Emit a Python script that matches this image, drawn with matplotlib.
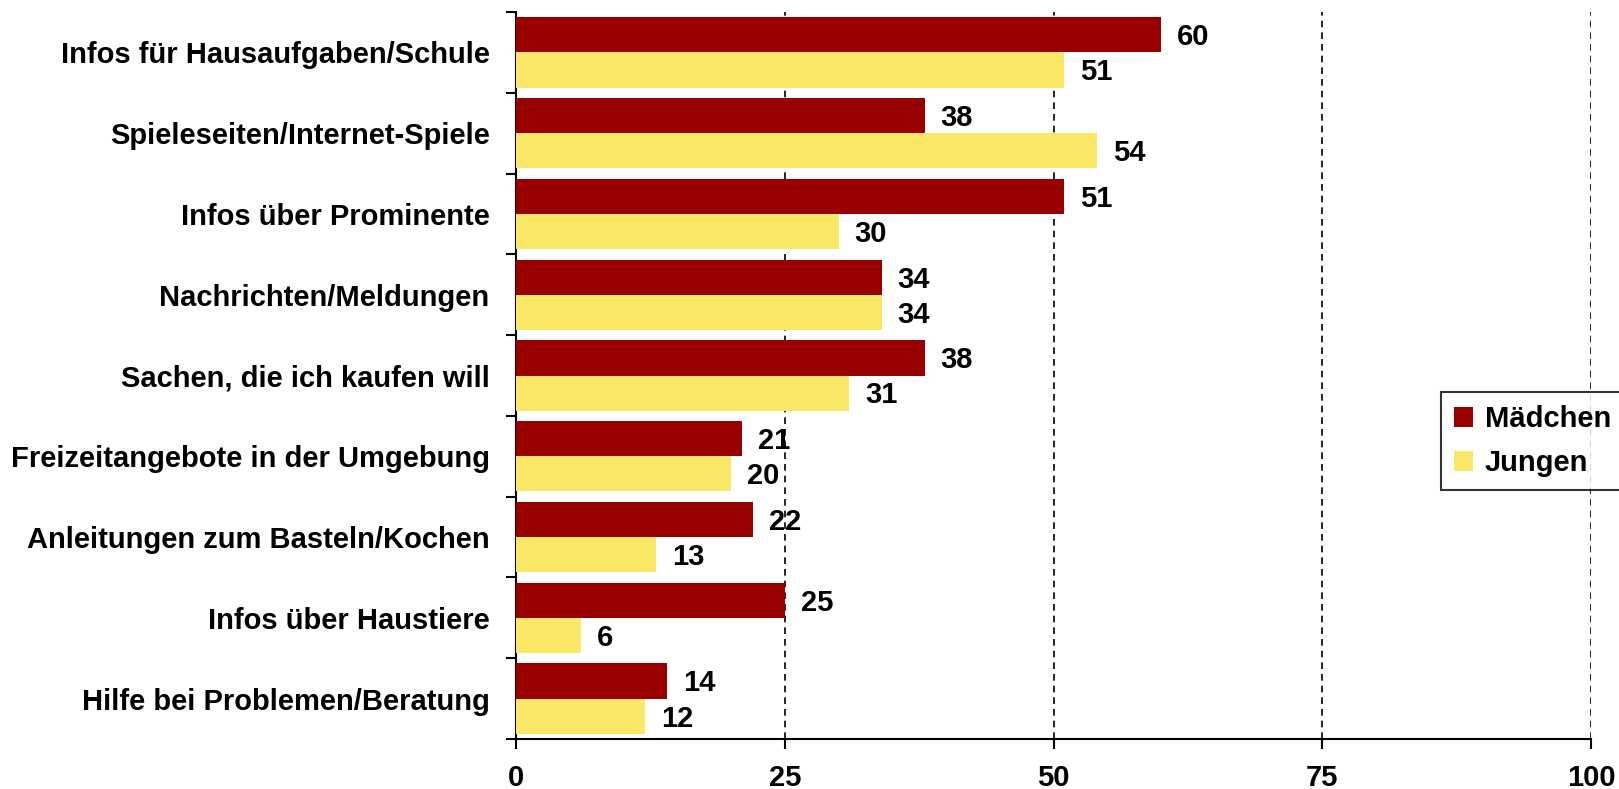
import matplotlib
matplotlib.use('Agg')
import matplotlib.pyplot as plt
import numpy as np

# Daten
kategorien = ['Infos für Hausaufgaben/Schule', 'Spieleseiten/Internet-Spiele',
              'Infos über Prominente', 'Nachrichten/Meldungen',
              'Sachen, die ich kaufen will', 'Freizeitangebote in der Umgebung',
              'Anleitungen zum Basteln/Kochen', 'Infos über Haustiere',
              'Hilfe bei Problemen/Beratung']
maedchen = [60, 38, 51, 34, 38, 21, 22, 25, 14]
jungen = [51, 54, 30, 34, 31, 20, 13, 6, 12]
x_ticks = [0, 25, 50, 75, 100]

plt.rcParams['font.family'] = ['Liberation Sans', 'DejaVu Sans']
plt.rcParams['font.weight'] = 'bold'
fs = 21

fig = plt.figure(figsize=(16.19, 7.89), dpi=100)
ax = fig.add_axes([516 / 1619, 1 - 739 / 789, (1591 - 516) / 1619, (739 - 12) / 789])

n = len(kategorien)
pos = np.arange(n)
h = 0.435
bars_m = ax.barh(pos - h / 2, maedchen, height=h, color='#990000', label='Mädchen', zorder=3)
bars_j = ax.barh(pos + h / 2, jungen, height=h, color='#FAE766', label='Jungen', zorder=3)

for b, v in zip(bars_m, maedchen):
    ax.text(v + 1.5, b.get_y() + b.get_height() / 2 + 0.03, str(v), va='center', ha='left',
            fontsize=fs, fontweight='bold', zorder=4)
for b, v in zip(bars_j, jungen):
    ax.text(v + 1.5, b.get_y() + b.get_height() / 2 + 0.03, str(v), va='center', ha='left',
            fontsize=fs, fontweight='bold', zorder=4)

ax.set_ylim(n - 0.5, -0.5)
ax.set_xlim(0, 100)
ax.set_xticks(x_ticks)
ax.set_xticklabels([str(t) for t in x_ticks], fontsize=fs, fontweight='bold')
ax.set_yticks(pos)
ax.set_yticklabels(kategorien, fontsize=fs, fontweight='bold')
ax.set_yticks(np.arange(n + 1) - 0.5, minor=True)
ax.tick_params(axis='y', which='major', length=0, pad=19)
ax.tick_params(axis='y', which='minor', length=7, width=1.5, direction='out')
ax.tick_params(axis='x', length=7, width=1.5, direction='out', pad=11)

ax.grid(axis='x', linestyle=(0, (4, 3)), color='black', linewidth=1.2, zorder=0)
for s in ['top', 'right']:
    ax.spines[s].set_visible(False)
ax.spines['left'].set_linewidth(1.5)
ax.spines['bottom'].set_linewidth(1.5)

leg = ax.legend(loc='upper left', bbox_to_anchor=((1441 - 516) / 1075, 1 - (392 - 12) / 727),
                fontsize=fs, frameon=True, fancybox=False, edgecolor='black',
                handlelength=0.65, handleheight=0.65, handletextpad=0.4, borderpad=0.45,
                labelspacing=0.55, borderaxespad=0)
leg.get_frame().set_linewidth(1.5)

fig.savefig('out.png', dpi=100)
